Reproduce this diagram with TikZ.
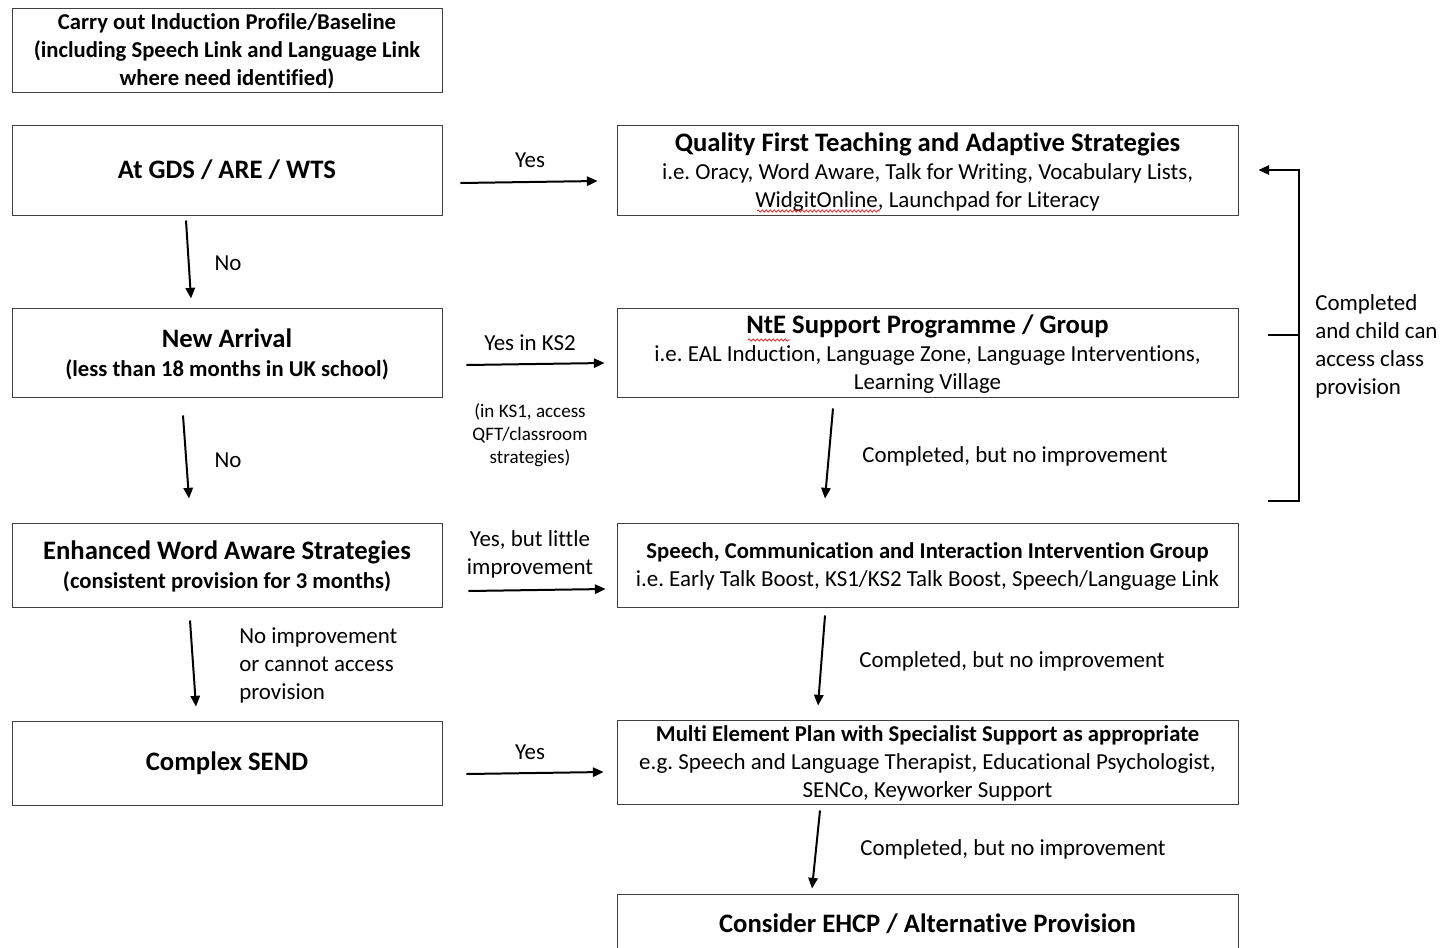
\documentclass[tikz,border=0pt]{standalone}
\usepackage{fontspec}
\setmainfont{Carlito}[Ligatures=NoCommon]
\frenchspacing
\usetikzlibrary{arrows.meta,calc,decorations.pathmorphing}
\newcommand{\fsBig}{\fontsize{20pt}{22pt}\selectfont\bfseries}
\newcommand{\fsMid}{\fontsize{17pt}{21pt}\selectfont\bfseries}
\newcommand{\fsBody}{\fontsize{17.2pt}{21pt}\selectfont}
\newcommand{\fsNote}{\fontsize{14.3pt}{17.25pt}\selectfont}
\tikzset{
  box/.style={draw=black!75, line width=0.7pt, minimum width=322.5pt, minimum height=63pt, inner sep=0pt, align=center, font=\fsBody},
  multi/.style={text depth=#1},
  rbox/.style={box, minimum width=465.75pt},
  arr/.style={line width=1.5pt, -{Triangle[length=8pt,width=7pt]}},
  lbl/.style={inner sep=0pt, font=\fsBody, align=center},
  lbll/.style={inner sep=0pt, font=\fsBody, align=left, anchor=west},
  squig/.style={red, line width=0.5pt, decorate, decoration={snake, amplitude=0.8pt, segment length=3pt}}
}
\begin{document}
\begin{tikzpicture}[x=0.75pt,y=-0.75pt]
\useasboundingbox (0,0) rectangle (1442,947);
% left column
\node[box, multi=-4.5pt] (ind) at (227,50) {\fsMid Carry out Induction Profile/Baseline\\\fsMid (including Speech Link and Language Link\\\fsMid where need identified)};
\node[box, minimum height=67.5pt] (gds) at (227,170) {\fsBig At GDS / ARE / WTS};
\node[box, multi=-1.5pt, minimum height=66.75pt] (na) at (227,352.5) {\fsBig New Arrival\\[0.75pt]\fsMid (less than 18 months in UK school)};
\node[box, multi=-8pt] (ewa) at (227,565) {\fsBig Enhanced Word Aware Strategies\\[0.75pt]\fsMid (consistent provision for 3 months)};
\node[box] (cs) at (227,763) {\fsBig Complex SEND};
% right column
\node[rbox, multi=-1.5pt, minimum height=67.5pt] (qft) at (927.5,170) {\fsBig Quality First Teaching and Adaptive Strategies\\i.e. Oracy, Word Aware, Talk for Writing, Vocabulary Lists,\\WidgitOnline, Launchpad for Literacy};
\node[rbox, multi=-6pt, minimum height=66.75pt] (nte) at (927.5,352.5) {\fsBig NtE Support Programme / Group\\i.e. EAL Induction, Language Zone, Language Interventions,\\Learning Village};
\node[rbox, multi=-4.5pt] (sci) at (927.5,565) {\fsMid Speech, Communication and Interaction Intervention Group\\i.e. Early Talk Boost, KS1/KS2 Talk Boost, Speech/Language Link};
\node[rbox, multi=-4.5pt] (mep) at (927.5,762) {\fsMid Multi Element Plan with Specialist Support as appropriate\\e.g. Speech and Language Therapist, Educational Psychologist,\\SENCo, Keyworker Support};
\node[rbox, minimum height=45pt] (ehcp) at (927.5,924) {\fsBig Consider EHCP / Alternative Provision};
% spell-check underlines
\draw[squig] (757,211) -- (880,211);
\draw[squig] (748,340) -- (790,340);
% horizontal arrows
\draw[arr] ($(gds.east)+(18,13)$) -- ($(qft.west)+(-19,11)$);
\node[lbl] (l1) at (530,160) {Yes};
\draw[arr] ($(na.east)+(24,12.5)$) -- ($(nte.west)+(-12,10.5)$);
\node[lbl] (l2) at (530,343) {Yes in KS2};
\node[lbl, font=\fsNote] (l2b) at (530,435) {(in KS1, access\\QFT/classroom\\strategies)};
\draw[arr] ($(ewa.east)+(26,26)$) -- ($(sci.west)+(-11,24)$);
\node[lbl] (l3) at (530,554) {Yes, but little\\improvement};
\draw[arr] ($(cs.east)+(24,11)$) -- ($(mep.west)+(-13,10)$);
\node[lbl] (l4) at (530,752) {Yes};
% left vertical arrows
\draw[arr] ($(gds.south)+(-41,5)$) -- ($(na.north)+(-36,-9)$);
\node[lbl] (n1) at (228,263) {No};
\draw[arr] ($(na.south)+(-44,18)$) -- ($(ewa.north)+(-38,-24)$);
\node[lbl] (n2) at (228,460) {No};
\draw[arr] ($(ewa.south)+(-37,13)$) -- ($(cs.north)+(-31,-14)$);
\node[lbll] (n3) at (239,665) {No improvement\\or cannot access\\provision};
% right vertical arrows
\draw[arr] ($(nte.south)+(-94.5,11)$) -- ($(sci.north)+(-102.5,-24)$);
\node[lbll] (c1) at (862,456) {Completed, but no improvement};
\draw[arr] ($(sci.south)+(-102.5,8)$) -- ($(mep.north)+(-109.5,-14)$);
\node[lbll] (c2) at (859,661) {Completed, but no improvement};
\draw[arr] ($(mep.south)+(-107.5,6)$) -- ($(ehcp.north)+(-115.5,-5)$);
\node[lbll] (c3) at (860,849) {Completed, but no improvement};
% bracket
\coordinate (bkb) at (1268,501);
\coordinate (bkm) at (1268,335);
\coordinate (bkx) at (1299,170);
\draw[arr] (bkb) -| (bkx) -- ($(qft.east)+(20,0)$);
\draw[line width=1.5pt] (bkm) -- (bkm -| bkx);
\node[lbll] (bl) at (1315,346) {Completed\\and child can\\access class\\provision};
\end{tikzpicture}
\end{document}
